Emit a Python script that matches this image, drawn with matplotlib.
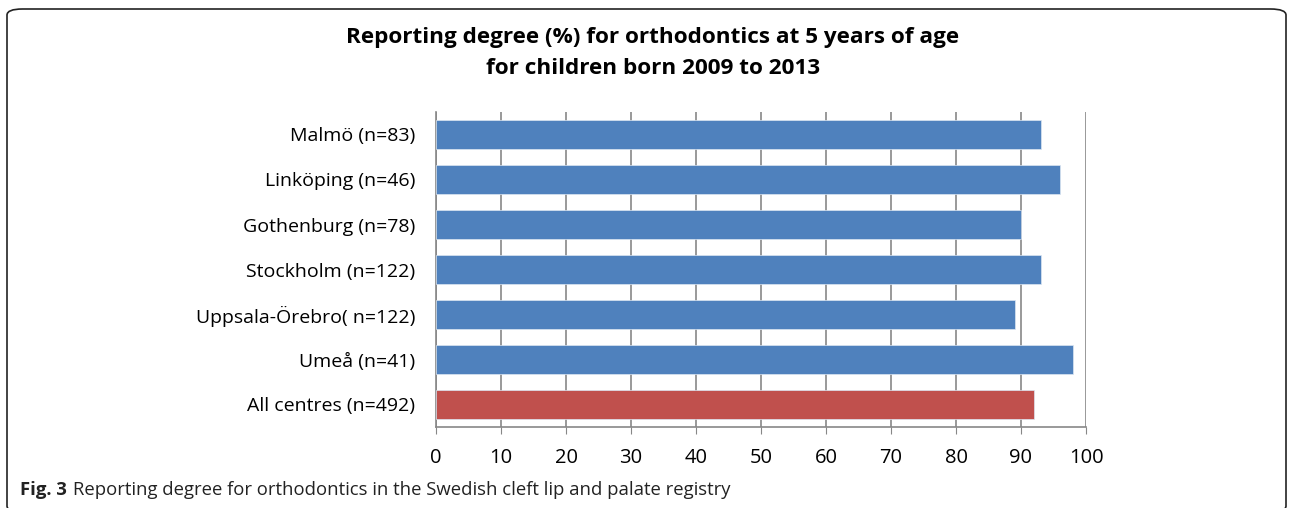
import matplotlib
matplotlib.use('Agg')
import matplotlib.pyplot as plt
from matplotlib.patches import FancyBboxPatch

centres = ["Malmö (n=83)", "Linköping (n=46)", "Gothenburg (n=78)", "Stockholm (n=122)",
           "Uppsala-Örebro( n=122)", "Umeå (n=41)", "All centres (n=492)"]
degree = [93, 96, 90, 93, 89, 98, 92]
colors = ["#4F81BD"] * 6 + ["#C0504D"]
xticks = list(range(0, 101, 10))

plt.rcParams['font.family'] = ['Open Sans', 'DejaVu Sans']

fig = plt.figure(figsize=(12.9, 5.08), dpi=100)
ax = fig.add_axes([436 / 1290, 1 - 427 / 508, 650 / 1290, 315 / 508])

ypos = list(range(len(centres)))
ax.barh(ypos, degree, height=0.64, color=colors, edgecolor='#DCE6F2', linewidth=0.5, zorder=3)
ax.set_ylim(len(centres) - 0.5, -0.5)
ax.set_xlim(0, 100)
ax.set_yticks(ypos)
ax.set_yticklabels(centres, fontsize=14)
ax.set_xticks(xticks)
ax.set_xticklabels([str(t) for t in xticks], fontsize=14.5)
ax.tick_params(axis='y', length=0, pad=15)
ax.tick_params(axis='x', length=5, color='#878787', pad=10)
ax.grid(axis='x', color='#878787', linewidth=1.2, zorder=0)
for s in ['top', 'right']:
    ax.spines[s].set_visible(False)
for s in ['left', 'bottom']:
    ax.spines[s].set_color('#878787')
    ax.spines[s].set_linewidth(1.2)

fig.text(653 / 1290, 1 - 37 / 508, "Reporting degree (%) for orthodontics at 5 years of age",
         ha='center', va='center', fontsize=16.2, fontweight='bold')
fig.text(653 / 1290, 1 - 69 / 508, "for children born 2009 to 2013",
         ha='center', va='center', fontsize=16.2, fontweight='bold')

# caption: bold "Fig. 3" followed by plain text
fig_lbl = fig.text(20 / 1290, 1 - 490 / 508, "Fig. 3", ha='left', va='center', fontsize=13.3,
                   fontweight='bold', color='#222222')
renderer = fig.canvas.get_renderer()
bb = fig_lbl.get_window_extent(renderer=renderer)
fig.text((bb.x1 + 6) / 1290, 1 - 490 / 508,
         "Reporting degree for orthodontics in the Swedish cleft lip and palate registry",
         ha='left', va='center', fontsize=13.3, color='#222222')

frame = FancyBboxPatch((7 / 1290, -4 / 508), 1279 / 1290, 503 / 508,
                       boxstyle="round,pad=0,rounding_size=0.012", transform=fig.transFigure,
                       facecolor='none', edgecolor='#222222', linewidth=1.2)
fig.patches.append(frame)

fig.savefig('out.png', dpi=100)
